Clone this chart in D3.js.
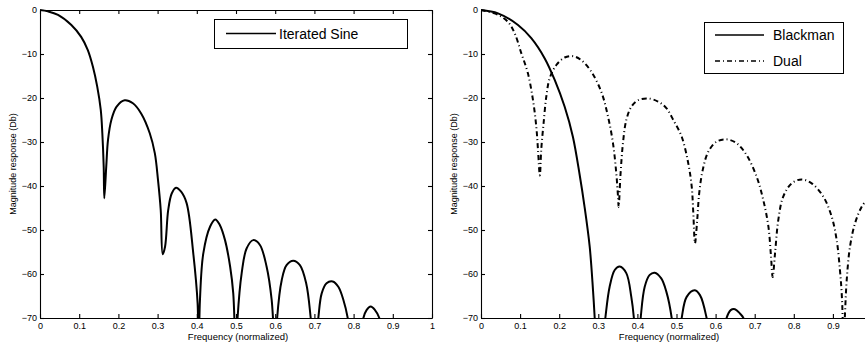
<!DOCTYPE html>
<html>
<head>
<meta charset="utf-8">
<script src="https://cdn.jsdelivr.net/npm/d3@7"></script>
<style>
  body { margin: 0; background: #fff; }
  svg { display: block; font-family: "Liberation Sans", Arial, Helvetica, sans-serif; }
</style>
</head>
<body>
<svg id="chart" width="865" height="342"></svg>
<script>
// tick values shared by both panels
var freqTicks = [0, 0.1, 0.2, 0.3, 0.4, 0.5, 0.6, 0.7, 0.8, 0.9, 1];
var dbTicks = [0, -10, -20, -30, -40, -50, -60, -70];

// [normalized frequency, magnitude dB]
var iteratedSine = [
    [0, 0], [0.02, -0.3], [0.046, -1.1], [0.08, -3.4], [0.105, -6.1], [0.122, -9.1],
    [0.135, -12.9], [0.146, -17.4], [0.155, -22.7], [0.159, -28], [0.1625, -35.6], [0.164, -42.8],
    [0.169, -35.6], [0.1735, -29.5], [0.182, -25], [0.195, -22], [0.216, -20.5], [0.237, -21.2],
    [0.258, -23.5], [0.28, -28], [0.293, -32.6], [0.301, -38.6], [0.308, -45.5], [0.313, -55.5],
    [0.319, -53.8], [0.327, -45.5], [0.336, -41.7], [0.347, -40.4], [0.36, -41.3], [0.374, -43.9],
    [0.391, -55.3], [0.402, -66.6], [0.4045, -80], [0.408, -66], [0.4166, -55.3], [0.434, -49.2],
    [0.447, -47.6], [0.459, -48.9], [0.472, -52.3], [0.485, -58.3], [0.493, -64.4], [0.5, -80],
    [0.504, -70], [0.5145, -59.8], [0.527, -54.2], [0.544, -52.3], [0.561, -53.4], [0.578, -58.3],
    [0.591, -65.9], [0.601, -80], [0.605, -70], [0.6166, -61.4], [0.629, -58], [0.646, -57],
    [0.663, -58], [0.679, -62.1], [0.6906, -70], [0.7, -80], [0.71, -70], [0.7186, -64.4],
    [0.731, -62.1], [0.7467, -61.7], [0.761, -62.9], [0.774, -65.9], [0.785, -70], [0.805, -85],
    [0.825, -70], [0.833, -68.2], [0.8436, -67.4], [0.8546, -68.2], [0.8656, -70], [0.88, -80]
];

var blackman = [
    [0, 0], [0.0435, -0.76], [0.0946, -3.4], [0.1286, -6.4], [0.163, -11], [0.1885, -15.9],
    [0.214, -22], [0.235, -28.8], [0.2524, -37.5], [0.2645, -44.5], [0.278, -53.8], [0.2864, -63.6],
    [0.2908, -70], [0.3, -85], [0.318, -70], [0.329, -62.9], [0.342, -59.1], [0.3547, -58.3],
    [0.3716, -59.8], [0.3844, -65.2], [0.391, -70], [0.399, -82], [0.4084, -70], [0.4187, -62.9],
    [0.4315, -60.2], [0.4442, -59.7], [0.461, -61], [0.474, -64], [0.4877, -70], [0.499, -82],
    [0.5133, -70], [0.526, -65.2], [0.546, -63.7], [0.56, -64.8], [0.577, -70], [0.6, -85],
    [0.628, -70], [0.6386, -68.2], [0.6496, -68], [0.6624, -69], [0.671, -70], [0.69, -80]
];

var dual = [
    [0, 0], [0.0435, -1.1], [0.069, -2.7], [0.0862, -5.3], [0.103, -9.8], [0.12, -14.4],
    [0.133, -20.5], [0.1414, -26.5], [0.1458, -31.8], [0.1505, -37.6], [0.154, -31.8], [0.16, -25.8],
    [0.167, -19.7], [0.1757, -15.5], [0.1926, -12.5], [0.214, -10.8], [0.2353, -10.5], [0.2565, -11.4],
    [0.282, -14], [0.3077, -18.6], [0.3248, -24.2], [0.3376, -30.3], [0.346, -37.1], [0.3504, -42.4],
    [0.352, -44.8], [0.357, -37.1], [0.363, -30.3], [0.3716, -25], [0.3844, -22], [0.4015, -20.5],
    [0.427, -20.1], [0.4527, -20.8], [0.474, -22.3], [0.4918, -25], [0.5133, -28.8], [0.53, -34.8],
    [0.539, -40.2], [0.543, -46.2], [0.5473, -53], [0.553, -47.7], [0.558, -41.7], [0.567, -36.4],
    [0.5813, -32.2], [0.6028, -29.9], [0.6284, -29.4], [0.654, -30.3], [0.6795, -33], [0.705, -37.9],
    [0.722, -43.2], [0.735, -49.2], [0.7417, -56], [0.746, -60.7], [0.752, -55.3], [0.7604, -47.7],
    [0.773, -42.4], [0.7946, -39.4], [0.82, -38.5], [0.8458, -39.4], [0.8754, -42.4], [0.897, -47],
    [0.9097, -52.3], [0.918, -59.1], [0.9225, -64.4], [0.925, -70], [0.9265, -78], [0.931, -68.9],
    [0.9353, -61.4], [0.9437, -53.8], [0.9565, -48.5], [0.9737, -44.7], [0.99, -42.8]
];

var xLabel = 'Frequency (normalized)';
var yLabel = 'Magnitude response (Db)';

var panels = [
    {
        id: 'left', x0: 40, x1: 432, box: true,
        xLabelX: 238, yLabelX: 15.5,
        legend: { x: 214, y: 19, w: 193, h: 29, lx1: 12, lx2: 62, tx: 65, row0: 14.5 },
        series: [{ name: 'Iterated Sine', data: iteratedSine, dash: null }]
    },
    {
        id: 'right', x0: 481, x1: 872, box: false,
        xLabelX: 669, yLabelX: 456.5,
        legend: { x: 704, y: 22, w: 139, h: 51, lx1: 11, lx2: 60, tx: 69, row0: 13 },
        series: [
            { name: 'Blackman', data: blackman, dash: null },
            { name: 'Dual', data: dual, dash: '5,3,1,3' }
        ]
    }
];

(function () {
    var svg = d3.select('#chart');
    var width = +svg.attr('width');
    var plotTop = 10, plotBottom = 318;
    var fmtFreq = function (d) { return String(+d.toFixed(1)); };
    var fmtDb = d3.format('d');

    function styleAxis(g) {
        g.selectAll('path, line').attr('stroke', '#000').attr('stroke-width', 1.1);
        g.selectAll('text').attr('fill', '#000').style('font-size', '9px');
    }

    function drawPanel(p) {
        var x = d3.scaleLinear().domain([0, 1]).range([p.x0, p.x1]);
        var y = d3.scaleLinear().domain([-70, 0]).range([plotBottom, plotTop]);
        var g = svg.append('g').attr('class', 'panel-' + p.id);

        // the right panel runs past the page edge, so drop ticks that fall off it
        var xTicks = freqTicks.filter(function (t) { return x(t) < width - 3; });

        g.append('clipPath').attr('id', 'clip-' + p.id)
            .append('rect')
            .attr('x', p.x0).attr('y', plotTop - 2)
            .attr('width', p.x1 - p.x0).attr('height', plotBottom - plotTop + 2);

        var line = d3.line()
            .x(function (d) { return x(d[0]); })
            .y(function (d) { return y(d[1]); })
            .curve(d3.curveCatmullRom.alpha(0.5));

        var curves = g.append('g').attr('clip-path', 'url(#clip-' + p.id + ')');
        p.series.forEach(function (s) {
            curves.append('path')
                .datum(s.data)
                .attr('fill', 'none')
                .attr('stroke', '#000')
                .attr('stroke-width', 2)
                .attr('stroke-linejoin', 'round')
                .attr('stroke-dasharray', s.dash)
                .attr('d', line);
        });

        // inward ticks like the matlab figure
        g.append('g').attr('transform', 'translate(0,' + plotBottom + ')')
            .call(d3.axisBottom(x).tickValues(xTicks).tickFormat(fmtFreq)
                .tickSize(-4).tickSizeOuter(0).tickPadding(4.5))
            .call(styleAxis);
        g.append('g').attr('transform', 'translate(' + p.x0 + ',0)')
            .call(d3.axisLeft(y).tickValues(dbTicks).tickFormat(fmtDb)
                .tickSize(-4).tickSizeOuter(0).tickPadding(3))
            .call(styleAxis);

        if (p.box) {
            g.append('g').attr('transform', 'translate(0,' + plotTop + ')')
                .call(d3.axisTop(x).tickValues(xTicks).tickFormat('')
                    .tickSize(-4).tickSizeOuter(0))
                .call(styleAxis);
            g.append('g').attr('transform', 'translate(' + p.x1 + ',0)')
                .call(d3.axisRight(y).tickValues(dbTicks).tickFormat('')
                    .tickSize(-4).tickSizeOuter(0))
                .call(styleAxis);
        }

        g.append('text')
            .attr('x', p.xLabelX).attr('y', 339.5)
            .attr('text-anchor', 'middle')
            .style('font-size', '9.5px')
            .text(xLabel);

        g.append('text')
            .attr('transform', 'translate(' + p.yLabelX + ',164) rotate(-90)')
            .attr('text-anchor', 'middle')
            .style('font-size', '9px')
            .text(yLabel);

        // legend
        var L = p.legend;
        var lg = g.append('g').attr('transform', 'translate(' + L.x + ',' + L.y + ')');
        lg.append('rect')
            .attr('x', 0.5).attr('y', 0.5)
            .attr('width', L.w).attr('height', L.h)
            .attr('fill', '#fff').attr('stroke', '#000').attr('stroke-width', 1);
        p.series.forEach(function (s, i) {
            var ry = L.row0 + i * 26;
            lg.append('line')
                .attr('x1', L.lx1).attr('x2', L.lx2)
                .attr('y1', ry).attr('y2', ry)
                .attr('stroke', '#000').attr('stroke-width', 1.4)
                .attr('stroke-dasharray', s.dash);
            lg.append('text')
                .attr('x', L.tx).attr('y', ry)
                .attr('dy', '0.36em')
                .style('font-size', '14px')
                .text(s.name);
        });
    }

    panels.forEach(drawPanel);
})();
</script>
</body>
</html>
